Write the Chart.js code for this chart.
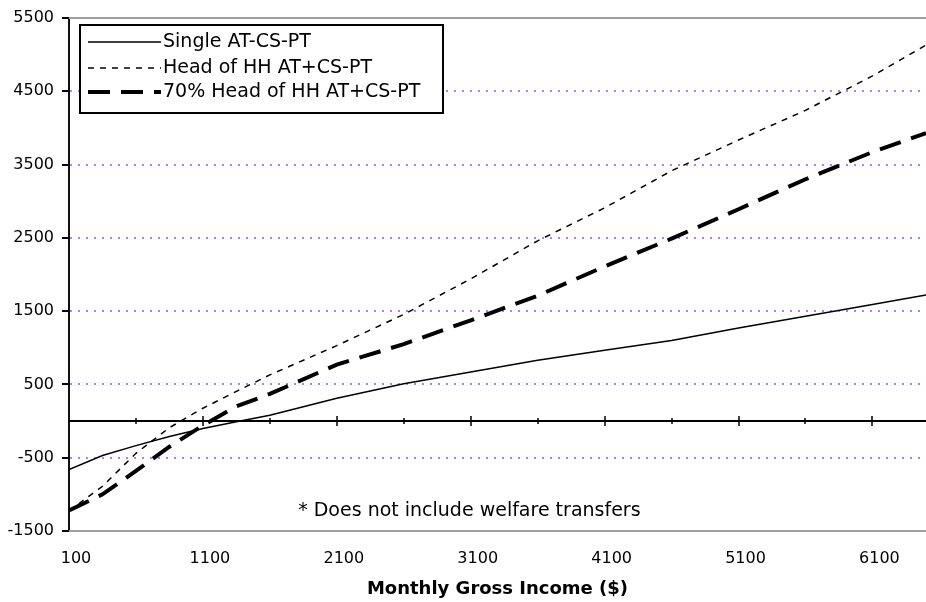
<!DOCTYPE html>
<html>
<head>
<meta charset="utf-8">
<script src="https://cdn.jsdelivr.net/npm/chart.js@4.4.0/dist/chart.umd.min.js"></script>
<style>
  body { margin: 0; background: #fff; }
  canvas { display: block; }
</style>
</head>
<body>
<canvas id="myChart" width="926" height="602"></canvas>
<script>
// monthly gross income ($)
const income = [100, 350, 600, 850, 1100, 1350, 1600, 2100, 2600, 3100, 3600, 4100, 4600, 5100, 5600, 6100, 6500];

const single = [-660, -470, -335, -210, -100, -10, 80, 310, 510, 670, 830, 965, 1100, 1270, 1430, 1590, 1720];
const headHH = [-1225, -890, -440, -90, 175, 405, 630, 1030, 1455, 1940, 2460, 2910, 3415, 3835, 4240, 4710, 5130];
const headHH70 = [-1220, -1000, -680, -350, -60, 200, 370, 770, 1050, 1375, 1710, 2110, 2490, 2890, 3300, 3670, 3930];

const seriesNames = ["Single AT-CS-PT", "Head of HH AT+CS-PT", "70% Head of HH AT+CS-PT"];

const xTicks = [100, 1100, 2100, 3100, 4100, 5100, 6100];
const yTicks = [-1500, -500, 500, 1500, 2500, 3500, 4500, 5500];
const zeroLineTicks = [600, 1100, 1600, 2100, 2600, 3100, 3600, 4100, 4600, 5100, 5600, 6100];

const noteText = "* Does not include welfare transfers";

function toPoints(values) {
    return values.map((v, i) => ({ x: income[i], y: v }));
}

const overlay = {
    id: 'overlay',
    beforeDatasetsDraw(chart) {
        const ctx = chart.ctx;
        const a = chart.chartArea;
        const x = chart.scales.x;
        const y = chart.scales.y;
        ctx.save();
        // grey frame lines top and bottom
        ctx.strokeStyle = '#a0a0a0';
        ctx.lineWidth = 2;
        ctx.beginPath();
        ctx.moveTo(a.left, a.top);
        ctx.lineTo(a.right, a.top);
        ctx.moveTo(a.left, a.bottom);
        ctx.lineTo(a.right, a.bottom);
        ctx.stroke();

        // category axis crossing at 0
        const y0 = Math.round(y.getPixelForValue(0));
        ctx.strokeStyle = '#000';
        ctx.lineWidth = 2;
        ctx.beginPath();
        ctx.moveTo(a.left, y0);
        ctx.lineTo(a.right, y0);
        ctx.stroke();
        ctx.lineWidth = 1.5;
        ctx.beginPath();
        zeroLineTicks.forEach(v => {
            const px = Math.round(x.getPixelForValue(v));
            const h = (v - 100) % 1000 === 0 ? 5 : 3;
            ctx.moveTo(px, y0 - h);
            ctx.lineTo(px, y0 + h);
        });
        ctx.stroke();
        ctx.restore();
    },
    afterDraw(chart) {
        const ctx = chart.ctx;
        const a = chart.chartArea;
        const x = chart.scales.x;
        const y = chart.scales.y;
        ctx.save();

        // legend box
        const bx = a.left + 11, by = a.top + 7, bw = 363, bh = 88;
        ctx.fillStyle = '#fff';
        ctx.fillRect(bx, by, bw, bh);
        ctx.strokeStyle = '#000';
        ctx.lineWidth = 2;
        ctx.strokeRect(bx, by, bw, bh);

        ctx.font = '19px "DejaVu Sans"';
        ctx.textBaseline = 'middle';
        ctx.textAlign = 'left';
        const rows = [17, 43, 67];
        chart.data.datasets.forEach((ds, i) => {
            const ry = by + rows[i];
            ctx.strokeStyle = ds.borderColor;
            ctx.lineWidth = ds.borderWidth;
            ctx.setLineDash(ds.borderDash || []);
            ctx.beginPath();
            ctx.moveTo(bx + 8, ry);
            ctx.lineTo(bx + 81, ry);
            ctx.stroke();
            ctx.setLineDash([]);
            ctx.fillStyle = '#000';
            ctx.fillText(ds.label, bx + 83, ry);
        });

        // footnote
        ctx.textAlign = 'center';
        ctx.fillText(noteText, x.getPixelForValue(3090), y.getPixelForValue(-1230));
        ctx.restore();
    }
};

const data = {
    datasets: [{
        label: seriesNames[0],
        data: toPoints(single),
        borderColor: '#000',
        borderWidth: 1.5,
        borderDash: []
    }, {
        label: seriesNames[1],
        data: toPoints(headHH),
        borderColor: '#000',
        borderWidth: 1.5,
        borderDash: [6, 6]
    }, {
        label: seriesNames[2],
        data: toPoints(headHH70),
        borderColor: '#000',
        borderWidth: 4,
        borderDash: [22, 11]
    }]
};

const config = {
    type: 'line',
    data: data,
    options: {
        responsive: false,
        animation: false,
        layout: {
            padding: { top: 18, right: 0, bottom: 0, left: 0 }
        },
        elements: {
            point: { radius: 0 },
            line: { tension: 0 }
        },
        scales: {
            x: {
                type: 'linear',
                min: 100,
                max: 6500,
                afterBuildTicks: s => { s.ticks = xTicks.map(v => ({ value: v })); },
                afterFit: s => { s.height = 71; },
                grid: { display: false, drawTicks: false },
                border: { display: false },
                ticks: {
                    color: '#000',
                    padding: 18,
                    labelOffset: 7,
                    maxRotation: 0,
                    autoSkip: false,
                    callback: v => String(v),
                    font: { family: 'DejaVu Sans', size: 16 }
                },
                title: {
                    display: true,
                    text: 'Monthly Gross Income ($)',
                    color: '#000',
                    padding: { top: 0, bottom: 2 },
                    font: { family: 'DejaVu Sans', size: 18, weight: 'bold' }
                }
            },
            y: {
                min: -1500,
                max: 5500,
                afterBuildTicks: s => { s.ticks = yTicks.map(v => ({ value: v })); },
                afterFit: s => { s.width = 69; },
                grid: {
                    color: c => (c.tick && (c.tick.value === -1500 || c.tick.value === 5500)) ? 'rgba(0,0,0,0)' : '#b07cff',
                    lineWidth: 2,
                    tickLength: 7,
                    tickColor: '#000',
                    tickWidth: 2,
                    tickBorderDash: []
                },
                border: { display: true, color: '#111', width: 2, dash: [2, 6] },
                ticks: {
                    color: '#000',
                    padding: 8,
                    callback: v => String(v),
                    font: { family: 'DejaVu Sans', size: 16 }
                }
            }
        },
        plugins: {
            legend: { display: false },
            tooltip: { enabled: false }
        }
    },
    plugins: [overlay]
};

const myChart = new Chart(
    document.getElementById('myChart'),
    config
);
</script>
</body>
</html>
